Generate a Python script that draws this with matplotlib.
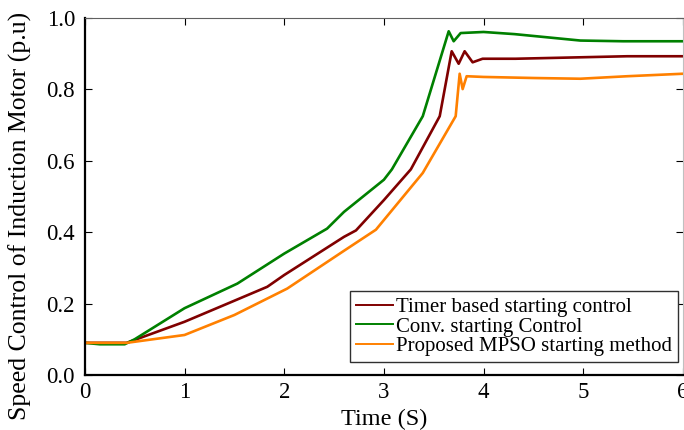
import numpy as np
import matplotlib
matplotlib.use('Agg')
import matplotlib.pyplot as plt

# values
t_timer = [0, 0.42, 1.0, 1.5, 1.83, 2.0, 2.6, 2.72, 3.0, 3.27, 3.56, 3.68, 3.75, 3.81, 3.89, 3.99, 4.32, 5.44, 6.0]
timer = [0.09, 0.09, 0.149, 0.208, 0.247, 0.28, 0.387, 0.405, 0.49, 0.576, 0.725, 0.907, 0.872, 0.907, 0.876, 0.886, 0.886, 0.893, 0.893]

t_conv = [0, 0.15, 0.4, 0.5, 1.0, 1.53, 2.0, 2.43, 2.6, 3.0, 3.08, 3.39, 3.65, 3.70, 3.77, 4.0, 4.31, 4.97, 5.4, 6.0]
conv = [0.09, 0.086, 0.086, 0.1, 0.187, 0.256, 0.34, 0.41, 0.457, 0.547, 0.576, 0.725, 0.963, 0.935, 0.958, 0.961, 0.955, 0.937, 0.935, 0.935]

t_mpso = [0, 0.42, 1.0, 1.5, 2.03, 2.6, 2.92, 3.39, 3.72, 3.76, 3.79, 3.83, 4.0, 4.51, 4.97, 5.44, 6.0]
mpso = [0.09, 0.09, 0.112, 0.168, 0.242, 0.348, 0.407, 0.566, 0.725, 0.844, 0.801, 0.837, 0.835, 0.832, 0.83, 0.837, 0.844]

labels = ['Timer based starting control', 'Conv. starting Control', 'Proposed MPSO starting method']
xticks = [0, 1, 2, 3, 4, 5, 6]
yticks = [0.0, 0.2, 0.4, 0.6, 0.8, 1.0]

plt.rcParams['font.family'] = ['Liberation Serif', 'DejaVu Serif']

fig = plt.figure(figsize=(6.84, 4.30), dpi=100)
ax = fig.add_axes([0.124, 0.128, 0.8745, 0.83])

ax.plot(t_timer, timer, color='#800000', lw=1.9, label=labels[0])
ax.plot(t_conv, conv, color='#008000', lw=1.9, label=labels[1])
ax.plot(t_mpso, mpso, color='#ff8000', lw=1.9, label=labels[2])

ax.set_xlim(0, 6)
ax.set_ylim(0, 1.0)
ax.set_xticks(xticks)
ax.set_yticks(yticks)
ax.set_yticklabels(['%.1f' % v for v in yticks])
ax.tick_params(direction='in', length=5, labelsize=16.5, top=True, right=True, pad=7)
ax.tick_params(axis='x', pad=5)

for s in ['left', 'bottom']:
    ax.spines[s].set_linewidth(1.6)
    ax.spines[s].set_color('black')
ax.spines['top'].set_color('#606060')
ax.spines['right'].set_color('#c0c0c0')

ax.set_xlabel('Time (S)', fontsize=17.5, labelpad=4)
ax.set_ylabel('Speed Control of Induction Motor (p.u)', fontsize=18.5)
ax.yaxis.set_label_coords(-0.088, 0.445)

leg = ax.legend(loc='lower right', bbox_to_anchor=(0.992, 0.035), fontsize=15,
                frameon=True, fancybox=False, edgecolor='#303030', framealpha=1,
                handlelength=1.75, handletextpad=0.15, labelspacing=0.0,
                borderpad=0.3, borderaxespad=0)
leg.get_frame().set_linewidth(1.0)
for h in leg.get_lines():
    h.set_linewidth(1.4)

fig.savefig('out.png', dpi=100)
